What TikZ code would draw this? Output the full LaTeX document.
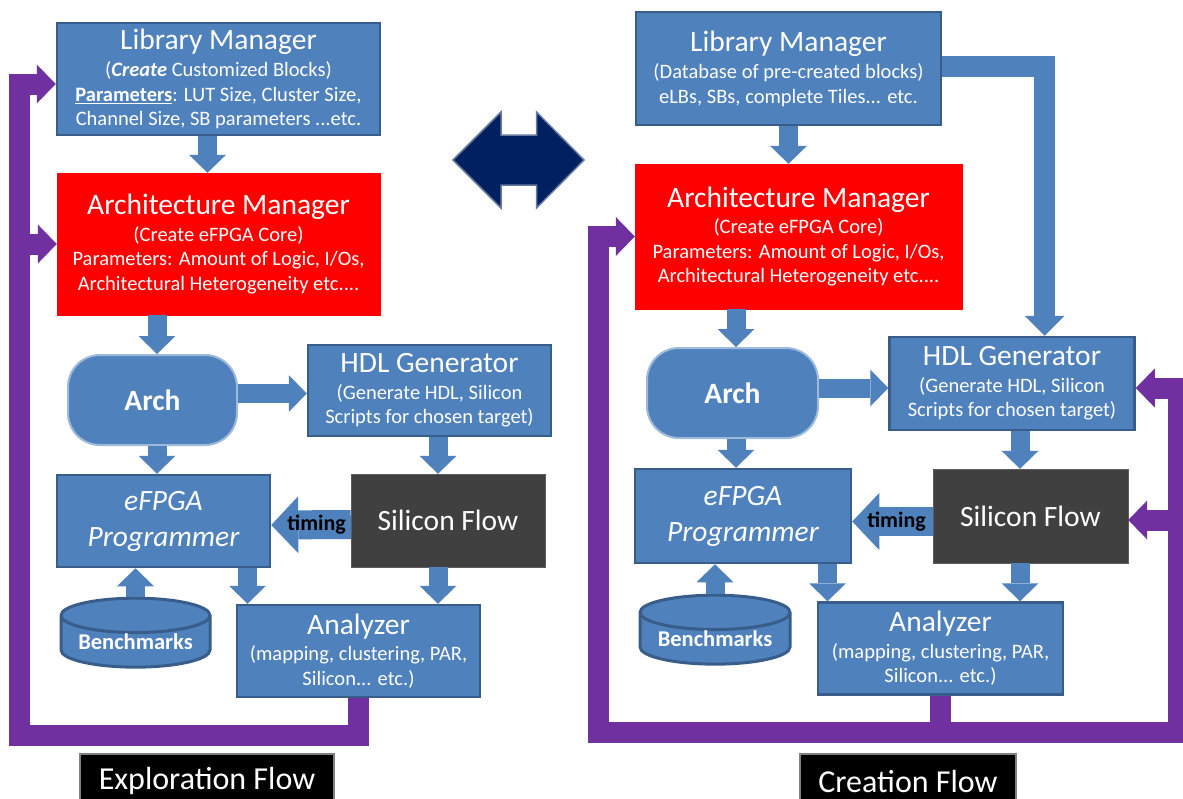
\documentclass[tikz,border=0pt]{standalone}
\usepackage{fontspec}
\setmainfont{Carlito}
\usepackage{tikz}
\usetikzlibrary{arrows.meta, shapes.geometric, positioning}

\definecolor{boxblue}{HTML}{4F81BD}
\definecolor{edgeblue}{HTML}{385D8A}
\definecolor{flowpurple}{HTML}{7030A0}
\definecolor{silicongray}{HTML}{404040}
\definecolor{swapnavy}{HTML}{002060}

\newcommand{\bigtxt}{\fontsize{29.5}{34}\selectfont}
\newcommand{\smalltxt}{\fontsize{20.5}{24.5}\selectfont}

\tikzstyle{blockbox} = [rectangle, draw=edgeblue, line width=2.5pt, fill=boxblue, text=white, align=center, inner sep=0pt, font=\smalltxt]
\tikzstyle{mgrbox} = [rectangle, draw=red, fill=red, text=white, align=center, inner sep=0pt, font=\smalltxt]
\tikzstyle{archbox} = [rectangle, rounded corners=32pt, draw=boxblue!55!white, line width=2pt, fill=boxblue, text=white, inner sep=0pt, font=\bigtxt\bfseries]
\tikzstyle{siliconbox} = [rectangle, draw=silicongray!85!white, fill=silicongray, text=white, inner sep=0pt, font=\bigtxt]
\tikzstyle{benchbox} = [cylinder, shape border rotate=90, aspect=0.3, draw=edgeblue, line width=3pt, fill=boxblue, text=white, inner sep=0pt, font=\fontsize{22.5}{26}\selectfont\bfseries]
\tikzstyle{flowtag} = [rectangle, draw=gray, line width=2pt, fill=black, text=white, inner sep=0pt, font=\fontsize{32}{36}\selectfont]
\tikzstyle{blockarrow} = [line width=19pt, draw=boxblue, -{Triangle[width=37pt,length=18pt,line width=0pt]}]
\tikzstyle{timingarrow} = [line width=29pt, draw=boxblue, -{Triangle[width=57pt,length=27pt,line width=0pt]}]
\tikzstyle{loopline} = [line width=21pt, draw=flowpurple, -{Triangle[width=39pt,length=19pt,line width=0pt]}]
\tikzstyle{timingtxt} = [inner sep=0pt, text=black, font=\fontsize{22}{24}\selectfont\bfseries]

\begin{document}
\begin{tikzpicture}[x=1pt, y=-1pt]
    \useasboundingbox (0,0) rectangle (1183,798);

    % exploration flow
    \node (lmL) [blockbox, minimum width=323pt, minimum height=112pt] at (218.5,79) {{\bigtxt Library Manager}\\[3pt] (\textbf{\textit{Create}} Customized Blocks)\\ \underline{\textbf{Parameters}}: LUT Size, Cluster Size,\\ Channel Size, SB parameters ...etc.};
    \node (amL) [mgrbox, minimum width=323pt, minimum height=142pt] at (218.5,244) {{\bigtxt Architecture Manager}\\[2pt] (Create eFPGA Core)\\ Parameters: Amount of Logic, I/Os,\\ Architectural Heterogeneity etc....};
    \node (archL) [archbox, minimum width=169pt, minimum height=90pt] at (152.5,400) {Arch};
    \node (hdlL) [blockbox, minimum width=243pt, minimum height=91pt] at (429.5,390.5) {{\bigtxt HDL Generator}\\[2pt] (Generate HDL, Silicon\\ Scripts for chosen target)};
    \node (progL) [blockbox, minimum width=213pt, minimum height=92pt, font=\fontsize{29.5}{36}\selectfont\itshape] at (163.5,521) {eFPGA\\Programmer};
    \node (sfL) [siliconbox, minimum width=194pt, minimum height=93pt] at (448,520.5) {Silicon Flow};
    \node (benchL) [benchbox, minimum width=149pt, minimum height=68pt] at (135.5,642) {Benchmarks};
    \node (anaL) [blockbox, minimum width=243pt, minimum height=92pt] at (358.5,651) {{\bigtxt Analyzer}\\[2pt] (mapping, clustering, PAR,\\ Silicon... etc.)};
    \node (tagL) [flowtag, minimum width=254pt, minimum height=54pt] at (207,781) {Exploration Flow};

    \draw [blockarrow] ([xshift=-11pt]lmL.south) -- ([xshift=-11pt]amL.north);
    \draw [blockarrow] ([xshift=-61.5pt]amL.south) -- ([xshift=4.5pt]archL.north);
    \draw [blockarrow] ([yshift=6.5pt]archL.east) -- ([yshift=-3pt]hdlL.west);
    \draw [blockarrow] ([xshift=4.5pt]archL.south) -- ([xshift=-6.5pt]progL.north);
    \draw [blockarrow] ([xshift=8.5pt]hdlL.south) -- ([xshift=-10pt]sfL.north);
    \draw [timingarrow] ([yshift=-4pt]sfL.west) -- ([yshift=-4pt]progL.east) node (timL) [timingtxt, pos=0.43] {timing};
    \draw [blockarrow] (benchL.north) -- (benchL.north |- progL.south);
    \draw [blockarrow] ([xshift=-23.75pt]progL.south east) -- ([xshift=11.75pt]anaL.north west);
    \draw [blockarrow] ([xshift=-10pt]sfL.south) -- ([xshift=79.5pt]anaL.north);

    \coordinate (loopL) at (19.5,735);
    \draw [loopline] (anaL.south) |- (loopL) |- ([yshift=-5pt]lmL.west);
    \draw [loopline] (loopL |- amL.west) -- (amL.west);

    % swap between the two flows
    \filldraw [fill=swapnavy, draw=swapnavy!60!white, line width=1.5pt] (453,160) -- (501,112) -- (501,135) -- (536.5,135) -- (536.5,112) -- (584,160) -- (536.5,208) -- (536.5,185) -- (501,185) -- (501,208) -- cycle;

    % creation flow
    \node (lmR) [blockbox, minimum width=305pt, minimum height=113pt] at (788.5,68.5) {{\bigtxt Library Manager}\\[3pt] (Database of pre-created blocks)\\ eLBs, SBs, complete Tiles... etc.};
    \node (amR) [mgrbox, minimum width=327pt, minimum height=145pt] at (798.5,236.5) {{\bigtxt Architecture Manager}\\[2pt] (Create eFPGA Core)\\ Parameters: Amount of Logic, I/Os,\\ Architectural Heterogeneity etc....};
    \node (archR) [archbox, minimum width=171pt, minimum height=90pt] at (732.5,393) {Arch};
    \node (hdlR) [blockbox, minimum width=245pt, minimum height=93pt] at (1012,383.5) {{\bigtxt HDL Generator}\\[2pt] (Generate HDL, Silicon\\ Scripts for chosen target)};
    \node (progR) [blockbox, minimum width=216pt, minimum height=94pt, font=\fontsize{29.5}{36}\selectfont\itshape] at (743,516) {eFPGA\\Programmer};
    \node (sfR) [siliconbox, minimum width=195pt, minimum height=94pt] at (1030.5,516) {Silicon Flow};
    \node (benchR) [benchbox, minimum width=150pt, minimum height=68pt] at (715,639) {Benchmarks};
    \node (anaR) [blockbox, minimum width=245pt, minimum height=92pt] at (940.5,648.5) {{\bigtxt Analyzer}\\[2pt] (mapping, clustering, PAR,\\ Silicon... etc.)};
    \node (tagR) [flowtag, minimum width=216pt, minimum height=54pt] at (908,781) {Creation Flow};

    \draw [blockarrow] (lmR.south) -- (lmR.south |- amR.north);
    \draw [blockarrow, line width=21pt, -{Triangle[width=40pt,length=20pt,line width=0pt]}] ([yshift=2pt]lmR.east) -| ([xshift=32.5pt]hdlR.north);
    \draw [blockarrow] ([xshift=-62.5pt]amR.south) -- ([xshift=3.5pt]archR.north);
    \draw [blockarrow] ([yshift=5pt]archR.east) -- ([yshift=-4.5pt]hdlR.west);
    \draw [blockarrow] ([xshift=3.5pt]archR.south) -- ([xshift=-7pt]progR.north);
    \draw [blockarrow] ([xshift=8pt]hdlR.south) -- ([xshift=-10.5pt]sfR.north);
    \draw [timingarrow] ([yshift=-5.5pt]sfR.west) -- ([yshift=-5.5pt]progR.east) node (timR) [timingtxt, pos=0.45] {timing};
    \draw [blockarrow] (benchR.north) -- (benchR.north |- progR.south);
    \draw [blockarrow] ([xshift=-24.75pt]progR.south east) -- ([xshift=10.75pt]anaR.north west);
    \draw [blockarrow] ([xshift=-10.5pt]sfR.south) -- ([xshift=79.5pt]anaR.north);

    \coordinate (loopR) at (598.5,732);
    \coordinate (loopRr) at (1178,732);
    \draw [loopline] (anaR.south) |- (loopR) |- (amR.west);
    \draw [loopline] (anaR.south |- loopR) -- (loopRr) |- ([yshift=-4.5pt]hdlR.east);
    \draw [loopline] (loopRr |- 0,520) -- (sfR.east |- 0,520);

\end{tikzpicture}
\end{document}
